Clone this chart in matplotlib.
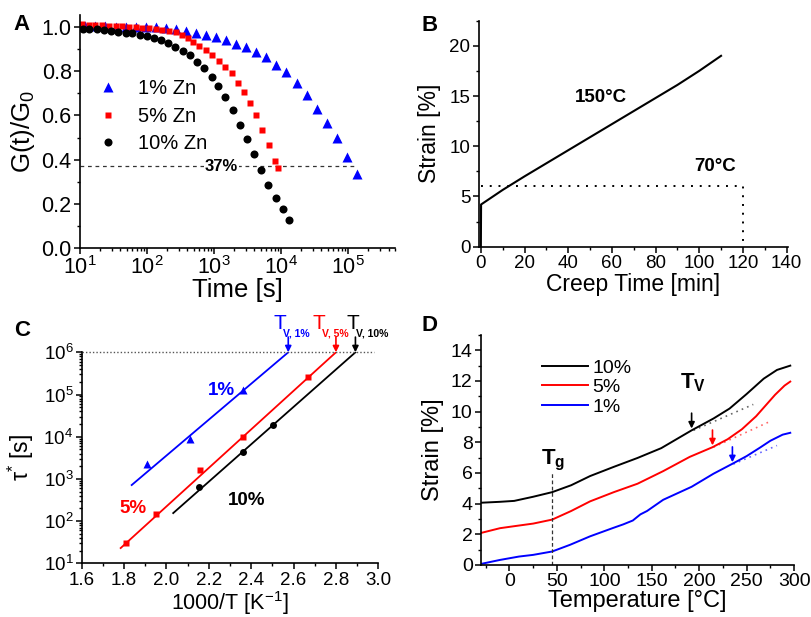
import matplotlib
matplotlib.use('Agg')
import matplotlib.pyplot as plt
from matplotlib.ticker import MultipleLocator, LogLocator, NullFormatter

plt.rcParams['font.family'] = ['Liberation Sans', 'DejaVu Sans']
plt.rcParams['mathtext.fontset'] = 'custom'
plt.rcParams['mathtext.rm'] = 'Liberation Sans'
plt.rcParams['mathtext.it'] = 'Liberation Sans:italic'
plt.rcParams['mathtext.bf'] = 'Liberation Sans:bold'
plt.rcParams['axes.linewidth'] = 1.2

# ---- panel A: stress relaxation ----
t_1 = [12, 17, 24, 33.9, 47.9, 67.6, 95.5, 135, 190, 269, 380, 537, 759, 1072, 1514, 2138,
       3020, 4266, 6026, 8511, 12023, 16982, 23988, 33884, 47863, 67608, 95499, 134896]
g_1 = [1.005, 1.005, 1.005, 1.0, 1.0, 1.0, 1.0, 0.998, 0.995, 0.99, 0.982, 0.975, 0.965, 0.955,
       0.94, 0.922, 0.908, 0.888, 0.863, 0.83, 0.795, 0.745, 0.692, 0.629, 0.567, 0.496, 0.410, 0.335]
t_5 = [10.7, 13.5, 17, 21.4, 26.9, 33.9, 42.7, 53.7, 67.6, 85.1, 107, 135, 170, 214, 269, 331,
       407, 490, 603, 759, 933, 1175, 1445, 1820, 2239, 2754, 3467, 4266, 5248, 6607, 8128, 8913]
g_5 = [1.012, 1.011, 1.01, 1.008, 1.006, 1.005, 1.003, 1.0, 0.998, 0.996, 0.994, 0.991, 0.988,
       0.983, 0.976, 0.964, 0.949, 0.932, 0.914, 0.896, 0.873, 0.847, 0.820, 0.790, 0.748, 0.707,
       0.658, 0.600, 0.535, 0.465, 0.394, 0.361]
t_10 = [11, 13.8, 17.8, 22.9, 28.8, 37.2, 47.9, 60.3, 77.6, 100, 126, 162, 209, 263, 339, 437,
        550, 708, 933, 1148, 1479, 1905, 2455, 3090, 3981, 5012, 6457, 8318, 10715, 13183]
g_10 = [0.993, 0.992, 0.99, 0.987, 0.983, 0.979, 0.975, 0.971, 0.966, 0.958, 0.95, 0.94, 0.927,
        0.91, 0.893, 0.873, 0.843, 0.813, 0.775, 0.734, 0.682, 0.624, 0.557, 0.493, 0.425, 0.353,
        0.285, 0.225, 0.175, 0.127]
level_37 = 0.37

# ---- panel B: creep ----
creep_time = [0, 0.1, 10, 20, 30, 40, 50, 60, 70, 80, 90, 100, 110]
creep_strain_150 = [0, 4.2, 5.65, 7.0, 8.3, 9.6, 10.9, 12.2, 13.5, 14.8, 16.1, 17.5, 19.0]
creep_70_strain = 6.07
creep_70_end = 120

# ---- panel C: Arrhenius ----
invT_1 = [1.91, 2.11, 2.36]
tau_1 = [2.2e3, 8.9e3, 1.3e5]
invT_5 = [1.81, 1.95, 2.16, 2.36, 2.67]
tau_5 = [31, 150, 1.66e3, 1.0e4, 2.6e5]
invT_10 = [2.155, 2.36, 2.505]
tau_10 = [630, 4.3e3, 1.86e4]
fit_x_1, fit_y_1 = [1.836, 2.575], [716, 1e6]
fit_x_5, fit_y_5 = [1.784, 2.80], [23, 1e6]
fit_x_10, fit_y_10 = [2.032, 2.892], [155, 1e6]
tv_x = [2.575, 2.80, 2.892]
tv_sub = ['V, 1%', 'V, 5%', 'V, 10%']

# ---- panel D: dilatometry ----
temp_10 = [-30, -10, 5, 25, 45, 65, 85, 110, 135, 160, 192, 215, 232, 250, 268, 282, 296]
strain_10 = [4.06, 4.12, 4.18, 4.45, 4.75, 5.2, 5.8, 6.4, 6.98, 7.62, 8.78, 9.55, 10.2, 11.15,
             12.15, 12.72, 13.0]
temp_5 = [-30, -10, 5, 25, 45, 65, 85, 110, 135, 162, 190, 214, 230, 245, 260, 270, 280, 290, 296]
strain_5 = [2.09, 2.4, 2.53, 2.7, 2.96, 3.52, 4.15, 4.75, 5.3, 6.12, 7.05, 7.68, 8.2, 8.85, 9.7,
            10.4, 11.1, 11.7, 11.96]
temp_1 = [-30, -10, 10, 25, 45, 64, 85, 109, 120, 130, 138, 145, 162, 192, 215, 235, 250, 264,
          275, 288, 296]
strain_1 = [0.07, 0.33, 0.55, 0.66, 0.88, 1.32, 1.87, 2.41, 2.65, 2.9, 3.3, 3.52, 4.25, 5.1, 5.95,
            6.6, 7.1, 7.65, 8.1, 8.5, 8.62]
tv_temp = [192, 214, 235]
tv_strain = [8.9, 7.8, 6.7]
tan_x = [[194, 257], [215, 275], [236, 282]]
tan_y = [[8.78, 10.47], [7.68, 9.37], [6.58, 7.79]]
tg_temp = 45

blue, red, black = '#0000ff', '#ff0000', '#000000'

fig = plt.figure(figsize=(8.12, 6.17), dpi=100)


def style(ax, size):
    for s in ['top', 'right']:
        ax.spines[s].set_visible(False)
    ax.tick_params(which='major', direction='out', length=4, width=1.1, labelsize=size, pad=2)
    ax.tick_params(which='minor', direction='out', length=2.5, width=1.0)


# A
axA = fig.add_axes([0.0985, 0.598, 0.388, 0.3776])
style(axA, 15.5)
axA.plot(t_1, g_1, '^', color=blue, ms=6.5, mec='none', label='1% Zn')
axA.plot(t_5, g_5, 's', color=red, ms=5, mec='none', label='5% Zn')
axA.plot(t_10, g_10, 'o', color=black, ms=5.8, mec='none', label='10% Zn')
axA.plot([10, 1.25e5], [level_37, level_37], color='#333333', lw=0.9, ls=(0, (3, 3)), zorder=0)
axA.text(1.3e3, level_37, '37%', fontsize=12, fontweight='bold', ha='center', va='center',
         bbox=dict(facecolor='white', edgecolor='none', pad=0.5))
axA.set_xscale('log')
axA.set_xlim(10, 5e5)
axA.set_ylim(0, 1.054)
axA.yaxis.set_major_locator(MultipleLocator(0.2))
axA.yaxis.set_minor_locator(MultipleLocator(0.1))
axA.xaxis.set_major_locator(LogLocator(base=10, numticks=15))
axA.xaxis.set_minor_locator(LogLocator(base=10, subs=range(2, 10), numticks=15))
axA.xaxis.set_minor_formatter(NullFormatter())
axA.yaxis.set_major_formatter(plt.FuncFormatter(lambda v, p: f'{v:.1f}'))
axA.set_xlabel('Time [s]', fontsize=18.5, labelpad=-1)
axA.set_ylabel('G(t)/G$_0$', fontsize=18.5, labelpad=3)
axA.legend(loc='upper left', bbox_to_anchor=(0.056, 0.725), frameon=False, fontsize=14.5,
           handlelength=1.0, handletextpad=1.0, labelspacing=0.42, borderpad=0, borderaxespad=0)

# B
axB = fig.add_axes([0.5895, 0.6002, 0.3805, 0.3663])
style(axB, 13.5)
axB.plot(creep_time, creep_strain_150, color=black, lw=1.5)
axB.plot([0, creep_70_end, creep_70_end], [creep_70_strain, creep_70_strain, 0], color=black,
         lw=1.4, ls=(0, (1, 3.5)))
axB.text(55, 14.9, '150°C', fontsize=13.5, fontweight='bold', ha='center', va='center')
axB.text(107.5, 7.95, '70°C', fontsize=13.5, fontweight='bold', ha='center', va='center')
axB.set_xlim(-1, 140.5)
axB.set_ylim(0, 22.5)
axB.xaxis.set_major_locator(MultipleLocator(20))
axB.xaxis.set_minor_locator(MultipleLocator(10))
axB.yaxis.set_major_locator(MultipleLocator(5))
axB.yaxis.set_minor_locator(MultipleLocator(2.5))
axB.set_xlabel('Creep Time [min]', fontsize=16.5, labelpad=1)
axB.set_ylabel('Strain [%]', fontsize=16.5, labelpad=6)

# C
axC = fig.add_axes([0.1006, 0.087, 0.3653, 0.342])
style(axC, 13.5)
axC.plot(fit_x_1, fit_y_1, color=blue, lw=1.3)
axC.plot(fit_x_5, fit_y_5, color=red, lw=1.3)
axC.plot(fit_x_10, fit_y_10, color=black, lw=1.3)
axC.plot(invT_1, tau_1, '^', color=blue, ms=5.5, mec='none')
axC.plot(invT_5, tau_5, 's', color=red, ms=4.5, mec='none')
axC.plot(invT_10, tau_10, 'o', color=black, ms=5, mec='none')
axC.plot([1.6, 2.98], [1e6, 1e6], color='#555555', lw=1.0, ls=(0, (1, 1.5)), clip_on=False)
axC.text(2.26, 10 ** 5.1, '1%', color=blue, fontsize=13.5, fontweight='bold', ha='center', va='center')
axC.text(1.84, 10 ** 2.3, '5%', color=red, fontsize=13.5, fontweight='bold', ha='center', va='center')
axC.text(2.38, 10 ** 2.49, '10%', color=black, fontsize=13.5, fontweight='bold', ha='center', va='center')
for x, sub, c, tl, sl in zip(tv_x, tv_sub, [blue, red, black],
                             [2.504, 2.690, 2.851], [2.551, 2.735, 2.894]):
    axC.annotate('', xy=(x, 1e6), xytext=(x, 10 ** 6.36), annotation_clip=False,
                 arrowprops=dict(arrowstyle='-|>', color=c, lw=1.2, mutation_scale=9,
                                 shrinkA=0, shrinkB=0))
    axC.text(tl, 10 ** 6.55, 'T', color=c, fontsize=15, ha='left', va='baseline', clip_on=False)
    axC.text(sl, 10 ** 6.37, sub, color=c, fontsize=7.5, fontweight='bold', ha='left',
             va='baseline', clip_on=False)
axC.set_yscale('log')
axC.set_xlim(1.6, 3.0)
axC.set_ylim(10, 1e6)
axC.xaxis.set_major_locator(MultipleLocator(0.2))
axC.xaxis.set_minor_locator(MultipleLocator(0.1))
axC.xaxis.set_major_formatter(plt.FuncFormatter(lambda v, p: f'{v:.1f}'))
axC.yaxis.set_major_locator(LogLocator(base=10, numticks=10))
axC.yaxis.set_minor_locator(LogLocator(base=10, subs=range(2, 10), numticks=10))
axC.yaxis.set_minor_formatter(NullFormatter())
axC.set_xlabel('1000/T [K$^{-1}$]', fontsize=15.5, labelpad=0.5)
axC.set_ylabel('τ$^{*}$ [s]', fontsize=16.5, labelpad=5)

# D
axD = fig.add_axes([0.5924, 0.0843, 0.3855, 0.3728])
style(axD, 14)
axD.plot(temp_10, strain_10, color=black, lw=1.4, label='10%')
axD.plot(temp_5, strain_5, color=red, lw=1.4, label='5%')
axD.plot(temp_1, strain_1, color=blue, lw=1.4, label='1%')
for tx, ty, c in zip(tan_x, tan_y, [black, red, blue]):
    axD.plot(tx, ty, color=c, lw=1.2, ls=(0, (1, 2.5)), alpha=0.6)
for x, y, c in zip(tv_temp, tv_strain, [black, red, blue]):
    axD.annotate('', xy=(x, y), xytext=(x, y + 1.0),
                 arrowprops=dict(arrowstyle='-|>', color=c, lw=1.2, mutation_scale=9,
                                 shrinkA=0, shrinkB=0))
axD.plot([tg_temp, tg_temp], [0, 6.0], color='#333333', lw=0.9, ls=(0, (3, 2)))
axD.text(tg_temp + 1, 6.8, r'$\mathbf{T_g}$', fontsize=16, ha='center', va='center')
axD.text(193, 11.9, r'$\mathbf{T_V}$', fontsize=16, ha='center', va='center')
axD.set_xlim(-30, 300)
axD.set_ylim(0, 15)
axD.xaxis.set_major_locator(MultipleLocator(50))
axD.xaxis.set_minor_locator(MultipleLocator(25))
axD.yaxis.set_major_locator(MultipleLocator(2))
axD.yaxis.set_minor_locator(MultipleLocator(1))
axD.set_xlabel('Temperature [°C]', fontsize=17, labelpad=0)
axD.set_ylabel('Strain [%]', fontsize=17, labelpad=5)
axD.legend(loc='upper left', bbox_to_anchor=(0.194, 0.895), frameon=False, fontsize=14,
           handlelength=2.4, handletextpad=0.2, labelspacing=0.1, borderpad=0, borderaxespad=0)

for lbl, x, y in [('A', 0.026, 0.961), ('B', 0.529, 0.959), ('C', 0.027, 0.465), ('D', 0.529, 0.473)]:
    fig.text(x, y, lbl, fontsize=16, fontweight='bold', ha='center', va='center')

fig.savefig('out.png', dpi=100)
